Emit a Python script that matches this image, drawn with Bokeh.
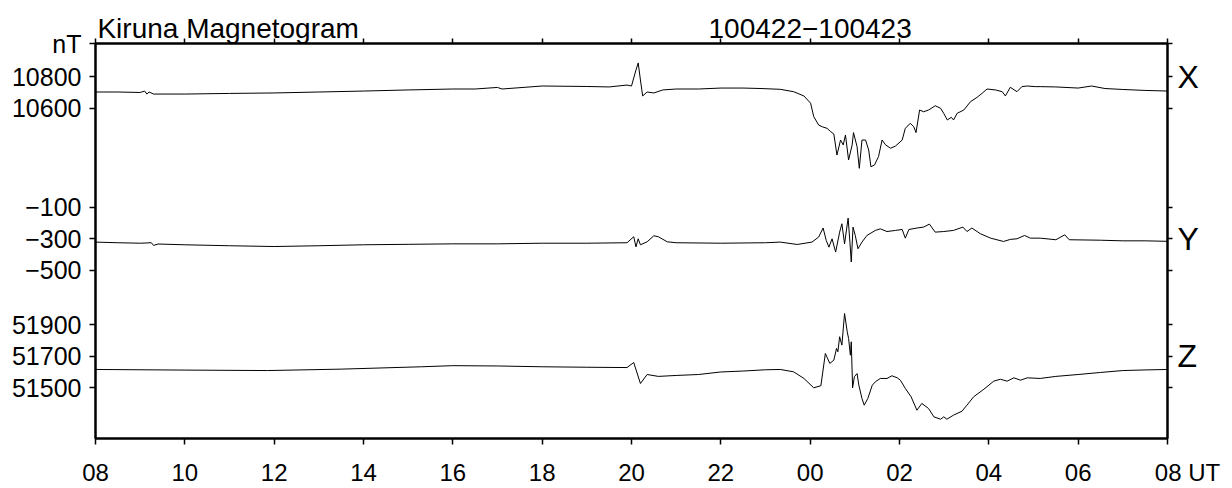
from bokeh.plotting import figure
from bokeh.models import LinearAxis, FixedTicker, Range1d, ColumnDataSource
from bokeh.embed import file_html
from bokeh.resources import INLINE
import numpy as np

# ---------------- data (hours since 00 UT of 100422; >24 = next day) ----------------
X_T = [8.0, 8.5, 9.0, 9.1, 9.15, 9.2, 9.3, 10, 11, 12, 13, 14, 15, 16, 16.5, 17, 17.1, 18, 19, 19.5,
       19.9, 20.0, 20.1, 20.15, 20.2, 20.25, 20.35, 20.5, 20.7, 21, 21.5, 22, 22.5, 22.9, 23.33, 23.63,
       23.86, 24.01, 24.08, 24.19, 24.27, 24.38, 24.46, 24.53, 24.60, 24.68, 24.74, 24.79, 24.86, 24.94,
       24.97, 25.05, 25.10, 25.16, 25.24, 25.31, 25.36, 25.44, 25.53, 25.61, 25.69, 25.80, 25.91, 26.06,
       26.13, 26.24, 26.32, 26.37, 26.45, 26.54, 26.65, 26.80, 26.92, 26.99, 27.07, 27.16, 27.21, 27.29,
       27.44, 27.59, 27.74, 27.85, 27.96, 28.15, 28.30, 28.37, 28.48, 28.63, 28.74, 28.86, 29.04, 29.15,
       29.5, 30, 30.3, 30.6, 31, 31.5, 32]
X_NT = [10703, 10703, 10700, 10709, 10690, 10703, 10690, 10690, 10694, 10697, 10703, 10709, 10716, 10722,
        10722, 10732, 10722, 10741, 10738, 10735, 10747, 10741, 10842, 10887, 10779, 10678, 10703, 10697,
        10716, 10722, 10722, 10728, 10728, 10725, 10720, 10705, 10678, 10632, 10547, 10494, 10483, 10473,
        10452, 10437, 10304, 10399, 10368, 10431, 10273, 10368, 10446, 10357, 10220, 10399, 10399, 10336,
        10230, 10241, 10294, 10399, 10368, 10347, 10361, 10399, 10473, 10505, 10483, 10446, 10589, 10578,
        10589, 10616, 10600, 10568, 10526, 10543, 10526, 10568, 10589, 10642, 10670, 10695, 10722, 10716,
        10705, 10678, 10733, 10705, 10737, 10741, 10737, 10737, 10735, 10728, 10741, 10725, 10719, 10713,
        10709]

Y_T = [8.0, 8.5, 9.0, 9.25, 9.3, 9.4, 10, 11, 12, 13, 14, 15, 16, 17, 18, 19, 19.9, 20.05, 20.1, 20.15,
       20.2, 20.35, 20.5, 20.6, 20.8, 21, 22, 23, 23.33, 23.71, 24.04, 24.19, 24.29, 24.36, 24.42, 24.49,
       24.57, 24.66, 24.71, 24.77, 24.85, 24.89, 24.92, 24.96, 25.01, 25.07, 25.16, 25.27, 25.46, 25.57,
       25.72, 25.91, 26.06, 26.13, 26.21, 26.39, 26.54, 26.67, 26.80, 26.99, 27.21, 27.42, 27.51, 27.62,
       27.81, 28.04, 28.33, 28.48, 28.63, 28.80, 28.93, 29.15, 29.5, 29.7, 29.8, 30.5, 31, 31.5, 32]
Y_NT = [-321, -325, -328, -325, -342, -333, -338, -344, -349, -344, -338, -335, -332, -332, -328, -328,
        -325, -287, -351, -300, -338, -319, -281, -287, -319, -325, -328, -325, -321, -336, -321, -289,
        -232, -311, -353, -300, -384, -258, -205, -332, -169, -321, -447, -226, -279, -363, -321, -279,
        -247, -237, -254, -247, -241, -296, -241, -232, -226, -207, -258, -254, -247, -226, -254, -232,
        -268, -296, -317, -304, -300, -279, -296, -296, -306, -275, -306, -309, -313, -313, -316]

Z_T = [8.0, 10, 11.85, 13.5, 15.3, 16, 17, 18, 19, 19.9, 20.05, 20.2, 20.35, 20.6, 21, 21.5, 22, 22.5, 23,
       23.33, 23.63, 23.86, 24.08, 24.24, 24.34, 24.44, 24.53, 24.59, 24.62, 24.66, 24.71, 24.77, 24.83,
       24.86, 24.90, 24.92, 24.95, 24.99, 25.05, 25.09, 25.16, 25.21, 25.29, 25.39, 25.46, 25.57, 25.72,
       25.83, 25.95, 26.02, 26.13, 26.26, 26.39, 26.50, 26.65, 26.77, 26.92, 26.99, 27.06, 27.21, 27.40,
       27.51, 27.66, 27.89, 28.11, 28.26, 28.41, 28.56, 28.71, 28.86, 29.15, 29.5, 30, 30.5, 31, 31.5, 32]
Z_NT = [51616, 51612, 51609, 51618, 51633, 51640, 51638, 51633, 51630, 51628, 51660, 51527, 51584, 51572,
        51578, 51584, 51600, 51606, 51614, 51616, 51601, 51559, 51500, 51513, 51717, 51654, 51675, 51749,
        51728, 51823, 51770, 51970, 51854, 51812, 51706, 51791, 51500, 51570, 51590, 51516, 51432, 51390,
        51432, 51516, 51538, 51559, 51559, 51576, 51563, 51548, 51496, 51443, 51358, 51401, 51369, 51316,
        51301, 51316, 51301, 51327, 51352, 51390, 51443, 51491, 51542, 51554, 51542, 51563, 51548, 51563,
        51559, 51572, 51584, 51597, 51609, 51613, 51616]

HOUR_TICKS = [8, 10, 12, 14, 16, 18, 20, 22, 24, 26, 28, 30, 32]
HOUR_LABELS = ["08", "10", "12", "14", "16", "18", "20", "22", "00", "02", "04", "06", "08"]
UT_SUFFIX = " UT"

X_TICKS_NT = [10800, 10600]
Y_TICKS_NT = [-100, -300, -500]
Z_TICKS_NT = [51900, 51700, 51500]
COMPONENT_NAMES = ["X", "Y", "Z"]

TITLE = "Kiruna Magnetogram"
DATES = "100422\u2212100423"

# ---------------- layout constants ----------------
Y_TOP, Y_BOTTOM = 11010, 8510          # stacked display scale (nT)
OFFSETS = {"X": 0, "Y": 10074, "Z": -42669}
TITLE_CENTER_H = 10.97                 # where the left-aligned title's centre falls
DATES_CENTER_H = 24.0
FONT = "Liberation Sans"
NBSP = "\u00a0"


def lab(v):
    return str(v).replace("-", "\u2212")


p = figure(width=1232, height=488, x_range=Range1d(8, 32), y_range=Range1d(Y_BOTTOM, Y_TOP),
           output_backend="svg", toolbar_location=None,
           min_border_left=95, min_border_right=65, min_border_top=43, min_border_bottom=48)
p.grid.visible = False
p.outline_line_color = "black"
p.outline_line_width = 2
p.background_fill_color = "white"
p.border_fill_color = "white"

for t, v, name in ((X_T, X_NT, "X"), (Y_T, Y_NT, "Y"), (Z_T, Z_NT, "Z")):
    src = ColumnDataSource(dict(t=t, y=np.array(v, dtype=float) + OFFSETS[name]))
    p.line("t", "y", source=src, line_color="black", line_width=1)

# y ticks
ytick_pos = [Y_TOP] + [v + OFFSETS["X"] for v in X_TICKS_NT] + \
            [v + OFFSETS["Y"] for v in Y_TICKS_NT] + [v + OFFSETS["Z"] for v in Z_TICKS_NT]
ytick_lab = ["nT"] + [lab(v) for v in X_TICKS_NT + Y_TICKS_NT + Z_TICKS_NT]
right_lab = [""] * len(ytick_pos)
right_lab[1] = COMPONENT_NAMES[0]
right_lab[4] = COMPONENT_NAMES[1]
right_lab[7] = COMPONENT_NAMES[2]


def style(ax):
    ax.axis_line_width = 2
    ax.axis_line_color = "black"
    ax.major_tick_line_color = "black"
    ax.major_tick_line_width = 1.5
    ax.major_tick_in = 0
    ax.minor_tick_line_color = None
    ax.major_label_text_font = FONT
    ax.major_label_text_color = "black"


yl = p.yaxis[0]
yl.ticker = FixedTicker(ticks=ytick_pos)
yl.major_label_overrides = {k: s for k, s in zip(ytick_pos, ytick_lab)}
style(yl)
yl.major_tick_out = 6
yl.major_label_standoff = 8
yl.major_label_text_font_size = "25px"

yr = LinearAxis(ticker=FixedTicker(ticks=ytick_pos))
yr.major_label_overrides = {k: s for k, s in zip(ytick_pos, right_lab)}
style(yr)
yr.major_tick_out = 5
yr.major_label_standoff = 5
yr.major_label_text_font_size = "32px"
p.add_layout(yr, "right")

# bottom axis: the last label carries the "UT" unit, padded so "08" stays on its tick
bottom_lab = list(HOUR_LABELS)
pad = NBSP * 6
bottom_lab[-1] = pad + bottom_lab[-1] + UT_SUFFIX
xb = p.xaxis[0]
xb.ticker = FixedTicker(ticks=HOUR_TICKS)
xb.major_label_overrides = {k: s for k, s in zip(HOUR_TICKS, bottom_lab)}
style(xb)
xb.major_tick_out = 6
xb.major_label_standoff = 14
xb.major_label_text_font_size = "24px"

# top axis: hour ticks (as minor ticks) + heading line (title, date range) as labels
head_pos = [TITLE_CENTER_H, DATES_CENTER_H]
head = LinearAxis(ticker=FixedTicker(ticks=head_pos, minor_ticks=HOUR_TICKS))
head.major_label_overrides = {k: s for k, s in zip(head_pos, [TITLE, DATES])}
head.axis_line_color = "black"
head.axis_line_width = 2
head.major_tick_line_color = None
head.major_tick_out = 0
head.major_tick_in = 0
head.minor_tick_line_color = "black"
head.minor_tick_line_width = 1.5
head.minor_tick_out = 5
head.minor_tick_in = 0
head.major_label_standoff = -5
head.major_label_text_font = FONT
head.major_label_text_font_size = "28px"
head.major_label_text_color = "black"
p.add_layout(head, "above")

open("out.html", "w").write(file_html(p, INLINE))
